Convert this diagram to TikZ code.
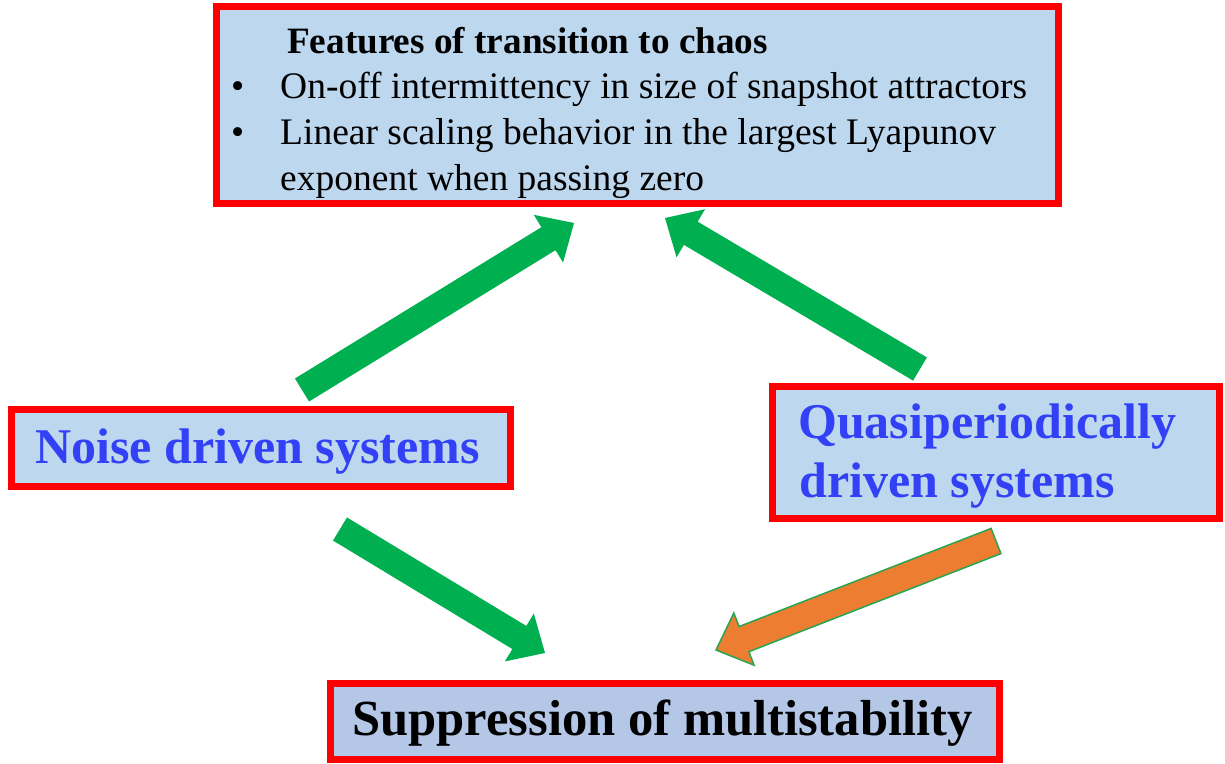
\documentclass[tikz,border=0pt]{standalone}
\usepackage{fontspec}
\setmainfont{Liberation Serif}
\usetikzlibrary{calc}
\definecolor{boxblue}{RGB}{189,215,238}
\definecolor{boxlav}{RGB}{180,199,231}
\definecolor{boxred}{RGB}{255,0,0}
\definecolor{arrowgreen}{RGB}{0,176,80}
\definecolor{arroworange}{RGB}{237,125,49}
\definecolor{outlinegreen}{RGB}{40,165,80}
\definecolor{textblue}{RGB}{50,65,245}
\newcommand\blockarrow[4]{%
  \coordinate (#3h) at ($(#2)!30pt!(#1)$);
  \path[#4] ($(#1)!13.5pt!90:(#2)$) -- ($(#3h)!13.5pt!90:(#2)$) -- ($(#3h)!28pt!90:(#2)$) -- (#2)
    -- ($(#3h)!28pt!-90:(#2)$) -- ($(#3h)!13.5pt!-90:(#2)$) -- ($(#1)!13.5pt!-90:(#2)$) -- cycle;
}
\begin{document}
\begin{tikzpicture}[x=1pt,y=-1pt,
  box/.style={draw=boxred, line width=7pt, fill=boxblue, inner sep=0pt},
  txt/.style={anchor=base west, inner sep=0pt},
  toptext/.style={txt, font=\fontsize{37.5}{45}\selectfont},
  bigtext/.style={txt, font=\fontsize{50}{60}\selectfont\bfseries},
  greenarrow/.style={fill=arrowgreen},
  orangearrow/.style={fill=arroworange, draw=outlinegreen, line width=1.5pt, line join=miter}]
\useasboundingbox (0,0) rectangle (1225,763);
% boxes
\node[box, minimum width=842pt, minimum height=197pt] (top) at (637.5,105) {};
\node[box, minimum width=499pt, minimum height=77pt] (noise) at (261,448) {};
\node[box, minimum width=447pt, minimum height=132pt] (quasi) at (996,452.5) {};
\node[box, fill=boxlav, minimum width=669pt, minimum height=76pt] (supp) at (665,721.5) {};
% texts
\node[toptext, font=\fontsize{37.2}{45}\selectfont\bfseries] (head) at (287,53) {Features of transition to chaos};
\node[toptext] (b1) at (231,98) {•};
\node[toptext] (l1) at (280,98) {On-off intermittency in size of snapshot attractors};
\node[toptext] (b2) at (231,144) {•};
\node[toptext] (l2) at (280,144) {Linear scaling behavior in the largest Lyapunov};
\node[toptext] (l3) at (280,190) {exponent when passing zero};
\node[bigtext, text=textblue] (noiset) at (35,463) {Noise driven systems};
\node[bigtext, text=textblue] (quasit1) at (798,438) {Quasiperiodically};
\node[bigtext, text=textblue] (quasit2) at (799,497) {driven systems};
\node[bigtext, font=\fontsize{50.6}{60}\selectfont\bfseries] (suppt) at (352,735) {Suppression of multistability};
% arrow ends
\coordinate (a1s) at (302,390);
\coordinate (a1e) at (574,223);
\coordinate (a2s) at (920,369);
\coordinate (a2e) at (665,218);
\coordinate (a3s) at (340,529);
\coordinate (a3e) at (545,653);
\coordinate (a4s) at (996,541);
\coordinate (a4e) at (716,650);
\blockarrow{a1s}{a1e}{a1}{greenarrow}
\blockarrow{a2s}{a2e}{a2}{greenarrow}
\blockarrow{a3s}{a3e}{a3}{greenarrow}
\blockarrow{a4s}{a4e}{a4}{orangearrow}
\end{tikzpicture}
\end{document}
